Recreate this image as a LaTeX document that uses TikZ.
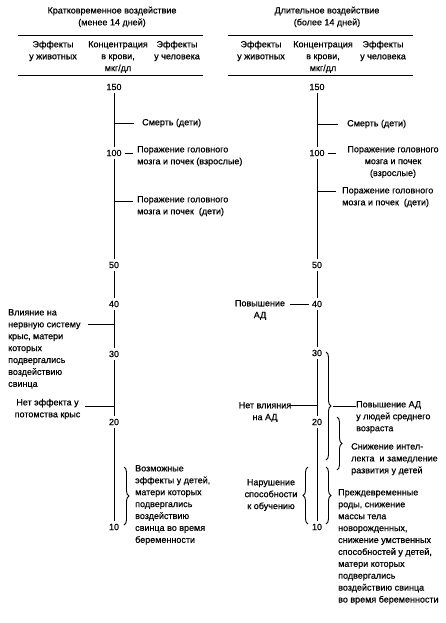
\documentclass[tikz,border=0pt]{standalone}
\usepackage{fontspec}
\setmainfont{Liberation Sans}
\newfontfamily\heavyfont{Liberation Sans}[FakeBold=0.6]
\usetikzlibrary{decorations.pathreplacing}
\begin{document}
\begin{tikzpicture}[x=1pt,y=-1pt,
  txt/.style={font=\heavyfont\fontsize{9}{11.9}\selectfont, inner sep=0pt},
  num/.style={font=\heavyfont\fontsize{9}{11}\selectfont, inner sep=3pt},
  ln/.style={line width=1pt},
  brc/.style={line width=0.9pt, decorate, decoration={brace, amplitude=5pt}}
]
\useasboundingbox[fill=white] (0,0) rectangle (446,623);

% ================= LEFT PANEL =================
\node[txt, align=center] (Lt) at (112,17) {Кратковременное воздействие\\(менее 14 дней)};
\coordinate (Lr1a) at (18,36); \coordinate (Lr1b) at (203,36);
\coordinate (Lr2a) at (18,76); \coordinate (Lr2b) at (203,76);
\draw[ln] (Lr1a) -- (Lr1b);
\draw[ln] (Lr2a) -- (Lr2b);
\node[txt, align=center] (Lh1) at (53,51) {Эффекты\\у животных};
\node[txt, align=center] (Lh2) at (118,57) {Концентрация\\в крови,\\мкг/дл};
\node[txt, align=center] (Lh3) at (177,51) {Эффекты\\у человека};

\node[num] (L150) at (114,87) {150};
\node[num] (L100) at (114,153) {100};
\node[num] (L50) at (114,265) {50};
\node[num] (L40) at (114,304) {40};
\node[num] (L30) at (114,354) {30};
\node[num] (L20) at (114,422) {20};
\node[num] (L10) at (114,527) {10};
\draw[ln] (L150) -- (L100);
\draw[ln] (L100) -- (L50);
\draw[ln] (L50) -- (L40);
\draw[ln] (L40) -- (L30);
\draw[ln] (L30) -- (L20);
\draw[ln] (L20) -- (L10);

% Смерть (дети)
\coordinate (La1) at (114,123);
\node[txt, anchor=west] (Ls) at (142,123) {Смерть (дети)};
\draw[ln] (La1) -- ([xshift=-8]La1 -| Ls.west);
% 100
\node[txt, align=left, anchor=north west] (Lp1) at (137,146) {Поражение головного\\мозга и почек (взрослые)};
\draw[ln] (L100.east) -- ([xshift=-4]L100.east -| Lp1.west);
% дети
\coordinate (La2) at (114,201);
\node[txt, align=left, anchor=north west] (Lp2) at (137,196) {Поражение головного\\мозга и почек~ (дети)};
\draw[ln] (La2) -- ([xshift=-4]La2 -| Lp2.west);

% animals
\node[txt, align=left, anchor=north west] (Lv) at (8,309) {Влияние на\\нервную систему\\крыс, матери\\которых\\подвергались\\воздействию\\свинца};
\coordinate (La3) at (114,324);
\coordinate (Ld3) at (88,324);
\draw[ln] (Ld3) -- (La3);
\node[txt, align=center] (Ln) at (47.5,409) {Нет эффекта у\\потомства крыс};
\coordinate (La4) at (114,406);
\coordinate (Ld4) at (85,406);
\draw[ln] (Ld4) -- (La4);

% brace
\coordinate (Lb1) at (124,467);
\coordinate (Lb2) at (124,525);
\draw[brc] (Lb1) -- (Lb2);
\node[txt, align=left, anchor=north west] (Lpo) at (135,465) {Возможные\\эффекты у детей,\\матери которых\\подвергались\\воздействию\\свинца во время\\беременности};

% ================= RIGHT PANEL =================
\node[txt, align=center] (Rt) at (327,17) {Длительное воздействие\\(более 14 дней)};
\coordinate (Rr1a) at (228,36); \coordinate (Rr1b) at (413,36);
\coordinate (Rr2a) at (228,76); \coordinate (Rr2b) at (413,76);
\draw[ln] (Rr1a) -- (Rr1b);
\draw[ln] (Rr2a) -- (Rr2b);
\node[txt, align=center] (Rh1) at (261,51) {Эффекты\\у животных};
\node[txt, align=center] (Rh2) at (323,57) {Концентрация\\в крови,\\мкг/дл};
\node[txt, align=center] (Rh3) at (383,51) {Эффекты\\у человека};

\node[num] (R150) at (317,87) {150};
\node[num] (R100) at (317,153) {100};
\node[num] (R50) at (317,265) {50};
\node[num] (R40) at (317,304) {40};
\node[num] (R30) at (317,353) {30};
\node[num] (R20) at (317,422) {20};
\node[num] (R10) at (317,527) {10};
\draw[ln] (R150) -- (R100);
\draw[ln] (R100) -- (R50);
\draw[ln] (R50) -- (R40);
\draw[ln] (R40) -- (R30);
\draw[ln] (R30) -- (R20);
\draw[ln] (R20) -- (R10);

% Смерть
\coordinate (Ra1) at (317,124);
\node[txt, anchor=west] (Rs) at (347,124) {Смерть (дети)};
\draw[ln] (Ra1) -- ([xshift=-9]Ra1 -| Rs.west);
% 100
\node[txt, align=center] (Rp1) at (393,162) {Поражение головного\\мозга и почек\\(взрослые)};
\coordinate (Rd1) at (336,153);
\draw[ln] (R100.east) -- (Rd1);
% дети
\coordinate (Ra2) at (317,191);
\node[txt, align=left, anchor=north west] (Rp2) at (342,187) {Поражение головного\\мозга и почек~ (дети)};
\draw[ln] (Ra2) -- ([xshift=-6]Ra2 -| Rp2.west);

% Повышение АД (animals)
\node[txt, align=center] (Rv) at (260,310) {Повышение\\АД};
\coordinate (Rd2) at (290,304);
\draw[ln] (Rd2) -- (R40.west);

% Нет влияния
\node[txt, align=center] (Rn) at (265,412) {Нет влияния\\на АД};
\coordinate (Rd3) at (289,405);
\coordinate (Ra3) at (317,405);
\draw[ln] (Rd3) -- (Ra3);

% brace 1
\coordinate (Rb1a) at (326,352);
\coordinate (Rb1b) at (326,460);
\draw[brc] (Rb1a) -- (Rb1b);
\coordinate (Rt1) at (333,406);
\node[txt, align=left, anchor=north west] (Rh) at (356,401) {Повышение АД\\у людей среднего\\возраста};
\draw[ln] (Rt1) -- (Rh.north west |- Rt1);

% brace 2
\coordinate (Rb2a) at (337,417);
\coordinate (Rb2b) at (337,470);
\draw[brc] (Rb2a) -- (Rb2b);
\node[txt, align=left, anchor=north west] (Rsn) at (351,443) {Снижение интел-\\лекта~ и замедление\\развития у детей};

% brace 3
\coordinate (Rb3a) at (326,467);
\coordinate (Rb3b) at (326,524);
\draw[brc] (Rb3a) -- (Rb3b);
\node[txt, align=left, anchor=north west] (Rpr) at (338,489) {Преждевременные\\роды, снижение\\массы тела\\новорожденных,\\снижение умственных\\способностей у детей,\\матери которых\\подвергались\\воздействию свинца\\во время беременности};

% brace 4 (left)
\coordinate (Rb4a) at (308,524);
\coordinate (Rb4b) at (308,467);
\draw[brc] (Rb4a) -- (Rb4b);
\node[txt, align=center] (Rnar) at (271,495) {Нарушение\\способности\\к обучению};

\end{tikzpicture}
\end{document}
